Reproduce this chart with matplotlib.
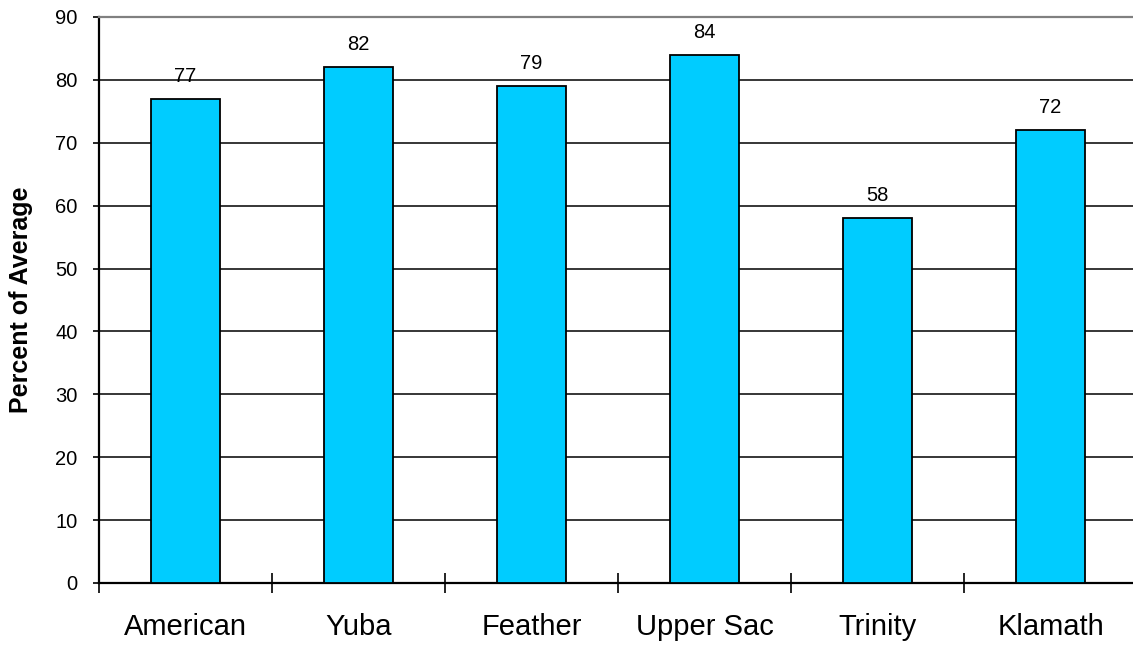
import matplotlib
matplotlib.use("Agg")
import matplotlib.pyplot as plt
import numpy as np

# Data
basins = ["American", "Yuba", "Feather", "Upper Sac", "Trinity", "Klamath"]
pct_avg = [77, 82, 79, 84, 58, 72]
y_ticks = [0, 10, 20, 30, 40, 50, 60, 70, 80, 90]

plt.rcParams["font.family"] = ["Liberation Sans", "DejaVu Sans"]

fig = plt.figure(figsize=(11.33, 6.46), dpi=100)
ax = fig.add_axes([99 / 1133, 63 / 646, 1038 / 1133, 566 / 646])

x = np.arange(len(basins))
bars = ax.bar(x, pct_avg, width=0.4, color="#00CCFF", edgecolor="black",
              linewidth=1.3, zorder=3)

for xi, v in zip(x, pct_avg):
    ax.annotate(f"{v}", (xi, v), xytext=(0, 9.5), textcoords="offset points",
                ha="center", va="bottom", fontsize=14.5)

# y axis
ax.set_ylim(0, 90)
ax.set_yticks(y_ticks)
ax.tick_params(axis="y", direction="out", length=4.5, width=1.2, pad=11, labelsize=14.5)
ax.yaxis.grid(True, color="black", linewidth=1.1, zorder=0)
ax.set_axisbelow(True)
ax.set_ylabel("Percent of Average", fontsize=18, fontweight="bold")
ax.yaxis.set_label_coords(-66 / 1038, 0.5)

# x axis: separator ticks at the boundaries, labels centered
ax.set_xlim(-0.5, len(basins) - 0.5)
ax.set_xticks(np.arange(-0.5, len(basins), 1.0))
ax.set_xticklabels([])
ax.tick_params(axis="x", which="major", direction="inout", length=14, width=1.2)
ax.set_xticks(x, minor=True)
ax.set_xticklabels(basins, minor=True, fontsize=21)
ax.tick_params(axis="x", which="minor", length=0, pad=21.5)

for side in ["left", "bottom"]:
    ax.spines[side].set_linewidth(1.6)
    ax.spines[side].set_color("black")
ax.spines["top"].set_color("#808080")
ax.spines["top"].set_linewidth(1.6)
ax.spines["right"].set_visible(False)

plt.savefig("out.png", dpi=100)
plt.close()
